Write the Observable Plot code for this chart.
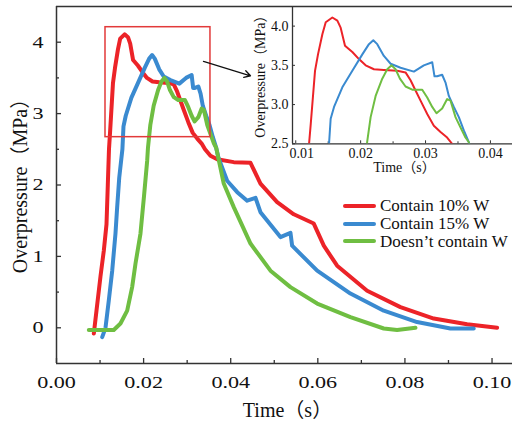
<!DOCTYPE html>
<html><head><meta charset="utf-8">
<script src="https://cdn.jsdelivr.net/npm/d3@7"></script>
<script src="https://cdn.jsdelivr.net/npm/@observablehq/plot@0.6"></script>
<style>
body{margin:0;background:#fff;}
#wrap{position:relative;width:512px;height:421px;font-family:"Liberation Serif","Noto Sans CJK SC",serif;}
#wrap svg{position:absolute;}
.legend{position:absolute;left:343px;top:197px;font-size:17px;color:#111;}
.row{height:17.8px;display:flex;align-items:center;white-space:nowrap;}
.sw{width:33px;height:4px;margin-right:4px;border-radius:2px;}
</style></head><body><div id="wrap"></div>
<script>
const series = ["Contain 10% W", "Contain 15% W", "Doesn’t contain W"];
const colors = ["#ec2328", "#3a8ad0", "#6fbe42"];

const t10 = [0.00857,0.00918,0.0101,0.01086,0.01148,0.01178,0.01205,0.01231,0.01297,0.01343,0.01411,0.01462,0.01564,0.01641,0.01692,0.01759,0.01872,0.01974,0.02077,0.02205,0.02358,0.02564,0.02692,0.02769,0.02846,0.02923,0.03026,0.03128,0.03231,0.03333,0.03410,0.03535,0.0369,0.0407,0.04454,0.04683,0.05066,0.05448,0.05907,0.06137,0.06443,0.07132,0.07897,0.08662,0.09428,0.10117];
const p10 = [-0.08,0.24,0.72,1.08,1.45,2.0,2.5,2.75,3.43,3.64,3.90,4.05,4.11,4.07,3.98,3.75,3.67,3.58,3.50,3.45,3.44,3.43,3.41,3.31,3.18,3.05,2.88,2.73,2.65,2.58,2.50,2.41,2.36,2.32,2.31,2.02,1.76,1.59,1.46,1.15,0.87,0.52,0.29,0.13,0.05,0.0];

const t15 = [0.01049,0.01125,0.0120,0.01279,0.01354,0.01393,0.01440,0.01513,0.01538,0.01590,0.01718,0.01872,0.02026,0.02128,0.02195,0.02256,0.02358,0.02462,0.02615,0.0282,0.02974,0.03103,0.03138,0.03179,0.03256,0.03308,0.03359,0.03436,0.03513,0.0359,0.03667,0.0372,0.03918,0.0415,0.04378,0.0457,0.04683,0.05142,0.05372,0.0541,0.05985,0.06749,0.07514,0.08279,0.09044,0.0958];
const p15 = [-0.13,0.0,0.38,0.80,1.32,1.69,2.1,2.5,2.82,2.97,3.22,3.43,3.64,3.77,3.82,3.77,3.62,3.52,3.47,3.42,3.50,3.54,3.36,3.36,3.38,3.28,3.11,2.97,2.84,2.67,2.52,2.38,2.06,1.90,1.78,1.82,1.62,1.27,1.33,1.15,0.80,0.48,0.24,0.08,-0.01,-0.01];

const t0 = [0.00742,0.01315,0.01469,0.01623,0.01737,0.01814,0.01928,0.0201,0.02082,0.0210,0.02154,0.02231,0.02333,0.02410,0.02477,0.02538,0.02605,0.02692,0.02795,0.02949,0.03026,0.03103,0.03169,0.03256,0.03333,0.03385,0.03462,0.03538,0.03615,0.03667,0.0384,0.0407,0.04454,0.04913,0.05372,0.05985,0.06749,0.07514,0.0782,0.08242];
const p0 = [-0.03,-0.03,0.06,0.24,0.57,0.90,1.32,1.85,2.34,2.52,2.84,3.11,3.33,3.45,3.50,3.45,3.33,3.23,3.19,3.19,3.09,2.97,2.89,2.95,3.07,3.05,2.84,2.71,2.58,2.52,2.02,1.69,1.18,0.80,0.57,0.34,0.15,-0.01,-0.03,0.0];

const xMajor = [0, 0.02, 0.04, 0.06, 0.08, 0.10];
const xMinor = [0.01, 0.03, 0.05, 0.07, 0.09];
const yMajor = [0, 1, 2, 3, 4];
const yMinor = [0.5, 1.5, 2.5, 3.5];
const insetXFirst = [0.01];
const insetXTicks = [0.02, 0.03, 0.04];
const insetXMinor = [0.015, 0.025, 0.035];
const insetYTicks = [2.5, 3.0, 3.5, 4.0];
const zoomBox = [{t1: 0.01125, t2: 0.03535, p1: 2.67, p2: 4.21}];
const pointer = [{t1: 0.03375, p1: 3.73, t2: 0.04454, p2: 3.53}];

const T = [t10, t15, t0], P = [p10, p15, p0];
const data = series.flatMap((s, i) => T[i].map((t, j) => ({s, t, p: P[i][j]})));

const serif = '"Liberation Serif","Noto Sans CJK SC",serif';
const ax = "#333";

const main = Plot.plot({
  width: 512, height: 421,
  marginLeft: 56, marginRight: 0, marginTop: 6, marginBottom: 58,
  style: {fontFamily: serif, background: "transparent", color: "#111", overflow: "visible"},
  x: {domain: [0, 0.1047]},
  y: {domain: [-0.5, 4.5]},
  color: {domain: series, range: colors},
  marks: [
    Plot.ruleY([4.5], {stroke: ax, strokeWidth: 1.5}),
    Plot.ruleY([-0.5], {stroke: ax, strokeWidth: 1.5}),
    Plot.ruleX([0], {stroke: ax, strokeWidth: 1.5}),
    Plot.ruleX(xMajor, {x: d => d, insetTop: 357 - 5, stroke: ax, strokeWidth: 1.3}),
    Plot.ruleX(xMinor, {x: d => d, insetTop: 357 - 3, stroke: ax, strokeWidth: 1.3}),
    Plot.ruleY(yMajor, {y: d => d, insetRight: 456 - 5, stroke: ax, strokeWidth: 1.3}),
    Plot.ruleY(yMinor, {y: d => d, insetRight: 456 - 3, stroke: ax, strokeWidth: 1.3}),
    Plot.axisX({ticks: xMajor, tickSize: 0, tickPadding: 12, fontSize: 17, tickFormat: d => d.toFixed(2), label: null}),
    Plot.axisY({ticks: yMajor, tickSize: 0, tickPadding: 13, fontSize: 17, tickFormat: d => String(d), label: null}),
    Plot.line(data, {x: "t", y: "p", z: "s", stroke: "s", strokeWidth: 4, strokeLinejoin: "round", strokeLinecap: "round"}),
    Plot.rect(zoomBox, {x1: "t1", x2: "t2", y1: "p1", y2: "p2", fill: "none", stroke: "#e23a3a", strokeWidth: 1.5}),
    Plot.arrow(pointer, {x1: "t1", y1: "p1", x2: "t2", y2: "p2", stroke: "#111", strokeWidth: 1.3, headLength: 8}),
    Plot.text(["Overpressure（MPa）"], {frameAnchor: "left", textAnchor: "middle", lineAnchor: "middle", rotate: -90, dx: -36, dy: -4, fontSize: 20, fill: "#111"}),
    Plot.text(["Time（s）"], {frameAnchor: "bottom", textAnchor: "middle", lineAnchor: "middle", dx: 3, dy: 47, fontSize: 20, fill: "#111"})
  ]
});
main.setAttribute("id", "main");
main.style.left = "0px"; main.style.top = "0px";

const inset = Plot.plot({
  width: 262, height: 180,
  marginLeft: 42, marginRight: 0, marginTop: 6, marginBottom: 36.7,
  style: {fontFamily: serif, background: "transparent", color: "#111", overflow: "visible"},
  x: {domain: [0.0095, 0.0434]},
  y: {domain: [2.5, 4.25]},
  color: {domain: series, range: colors},
  marks: [
    Plot.ruleX([0.0095], {stroke: ax, strokeWidth: 1.3}),
    Plot.ruleY([2.5], {stroke: ax, strokeWidth: 1.3}),
    Plot.ruleX(insetXFirst.concat(insetXTicks), {x: d => d, insetTop: 137.3 - 3, stroke: ax, strokeWidth: 1}),
    Plot.ruleX(insetXMinor, {x: d => d, insetTop: 137.3 - 2, stroke: ax, strokeWidth: 1}),
    Plot.ruleY(insetYTicks, {y: d => d, insetRight: 220 - 3, stroke: ax, strokeWidth: 1}),
    Plot.axisX({ticks: insetXFirst, tickSize: 0, tickPadding: 4, dx: 6, fontSize: 14, tickFormat: d => d.toFixed(2), label: null}),
    Plot.axisX({ticks: insetXTicks, tickSize: 0, tickPadding: 4, fontSize: 14, tickFormat: d => d.toFixed(2), label: null}),
    Plot.axisY({ticks: insetYTicks, tickSize: 0, tickPadding: 4, fontSize: 14, tickFormat: d => d.toFixed(1), label: null}),
    Plot.line(data, {x: "t", y: "p", z: "s", stroke: "s", strokeWidth: 2, clip: true, strokeLinejoin: "round"}),
    Plot.text(["Overpressure（MPa）"], {frameAnchor: "left", textAnchor: "middle", lineAnchor: "middle", rotate: -90, dx: -32, dy: -2, fontSize: 14, fill: "#111"}),
    Plot.text(["Time（s）"], {frameAnchor: "bottom", textAnchor: "middle", lineAnchor: "middle", dx: 2, dy: 24, fontSize: 14, fill: "#111"})
  ]
});
inset.style.left = "250px"; inset.style.top = "0px";

const wrap = document.getElementById("wrap");
wrap.appendChild(main);
wrap.appendChild(inset);

const legend = document.createElement("div");
legend.className = "legend";
series.forEach((s, i) => {
  const row = document.createElement("div"); row.className = "row";
  const sw = document.createElement("span"); sw.className = "sw"; sw.style.background = colors[i];
  const tx = document.createElement("span"); tx.textContent = s;
  row.appendChild(sw); row.appendChild(tx); legend.appendChild(row);
});
wrap.appendChild(legend);

document.querySelectorAll('#main g[aria-label="x-axis tick label"] text, #main g[aria-label="y-axis tick label"] text').forEach(t => {
  const L = t.getComputedTextLength();
  t.setAttribute("textLength", L * 1.3);
  t.setAttribute("lengthAdjust", "spacingAndGlyphs");
});
</script></body></html>
